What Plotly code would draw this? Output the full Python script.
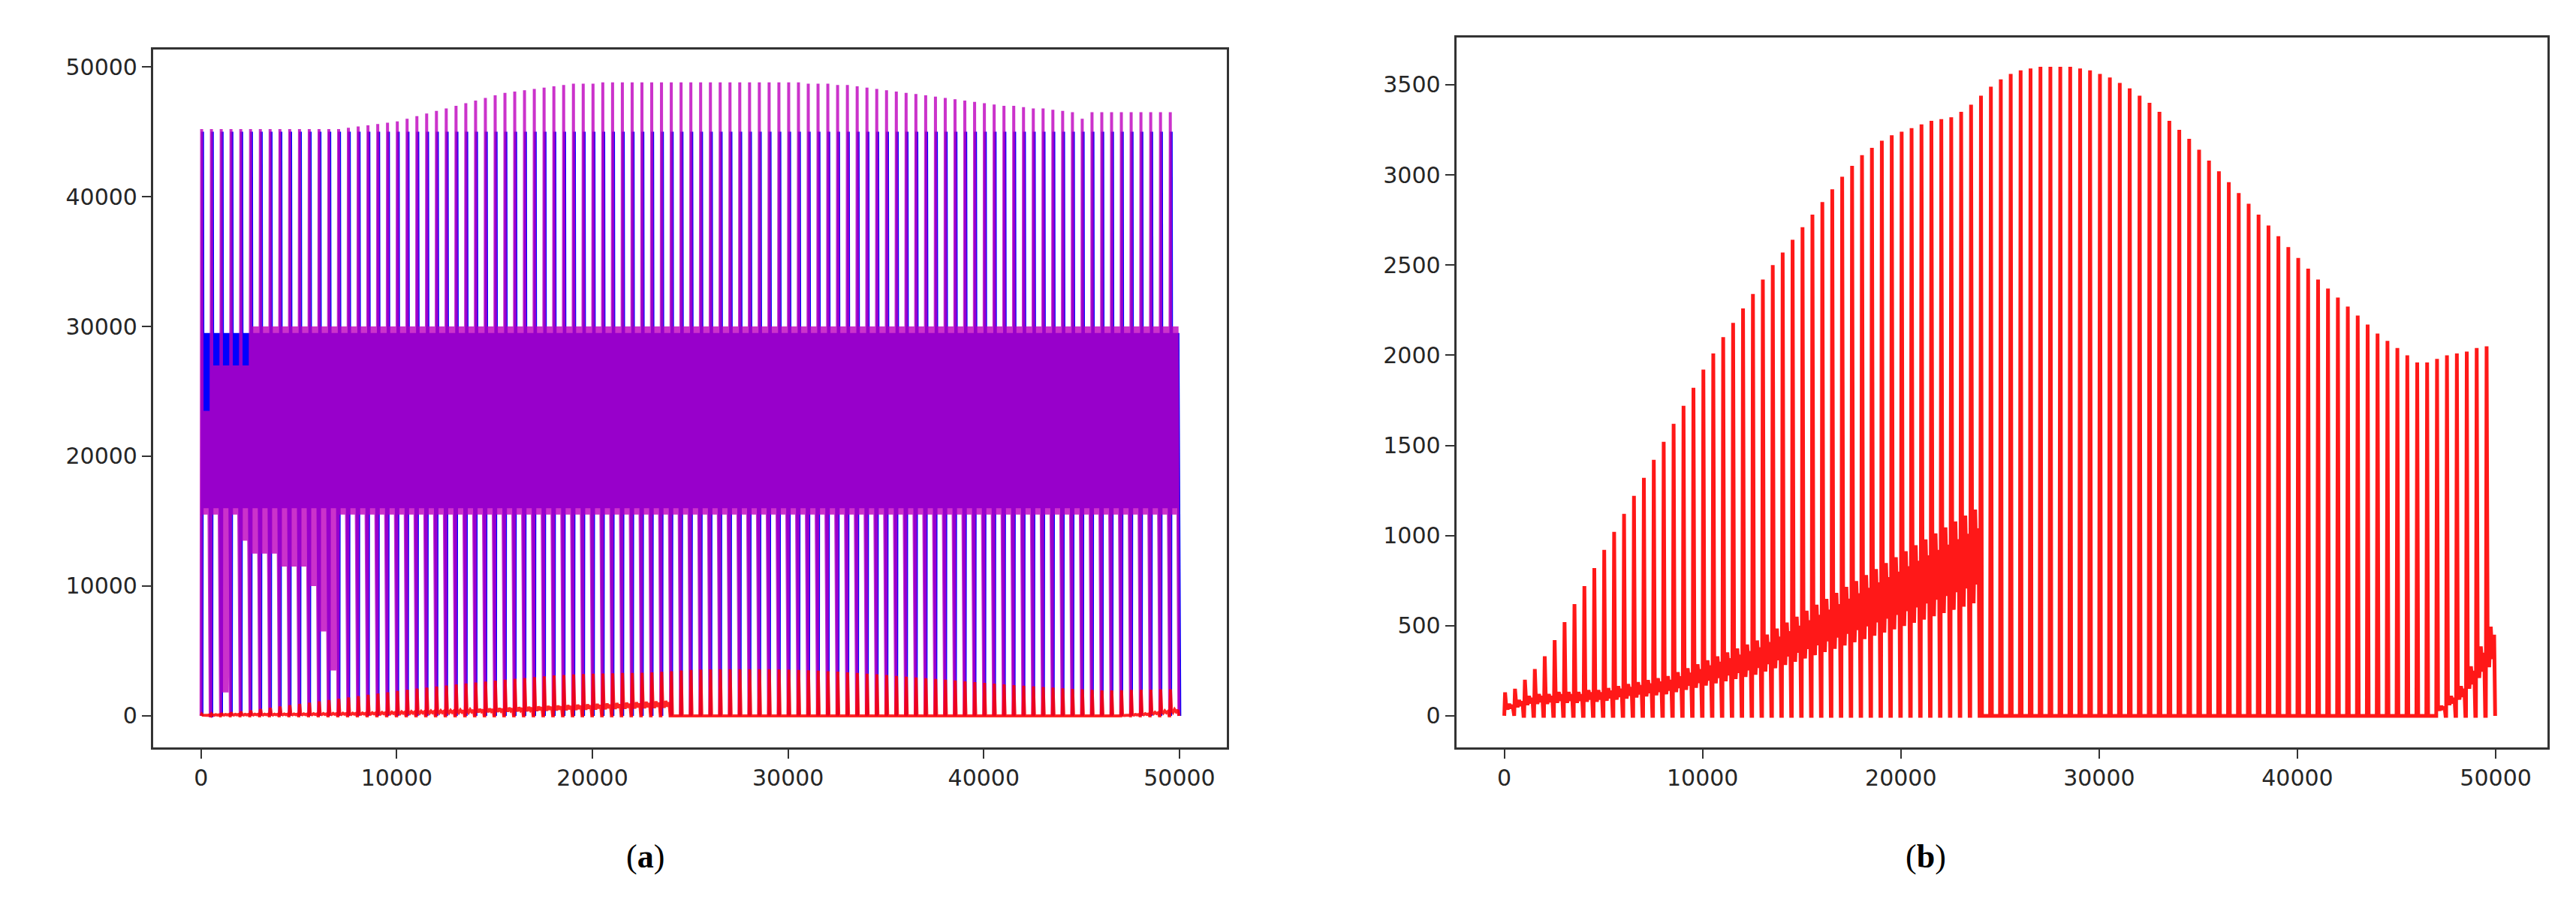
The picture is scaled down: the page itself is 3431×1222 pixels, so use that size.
import plotly.graph_objects as go

PERIOD = 500
red_peaks = [130,150,200,260,330,420,520,620,720,820,
             920,1020,1120,1220,1320,1420,1520,1620,1720,1820,
             1920,2010,2100,2180,2260,2340,2420,2500,2570,2640,
             2710,2780,2850,2920,2990,3050,3110,3150,3190,3220,
             3240,3260,3280,3300,3310,3320,3350,3390,3440,3490,
             3530,3560,3580,3590,3600,3600,3600,3600,3590,3580,
             3560,3540,3510,3480,3440,3400,3350,3300,3250,3200,
             3140,3080,3020,2960,2900,2840,2780,2720,2660,2600,
             2540,2480,2420,2370,2320,2270,2220,2170,2120,2080,
             2040,2000,1960,1960,1980,2000,2010,2020,2040,2050]
red_lower = [60,80,100,110,110,120,120,120,130,130,
             140,150,160,170,180,190,200,220,240,260,
             280,300,320,340,360,380,410,440,470,500,
             530,560,590,620,650,680,710,740,770,800,
             830,860,890,920,950,980,1010,1040,0,0,
             0,0,0,0,0,0,0,0,0,0,
             0,0,0,0,0,0,0,0,0,0,
             0,0,0,0,0,0,0,0,0,0,
             0,0,0,0,0,0,0,0,0,0,
             0,0,0,0,50,100,150,250,350,450]
mag_peaks = [45200,45200,45200,45200,45200,45200,45200,45200,45200,45200,
             45200,45200,45200,45200,45200,45300,45400,45500,45600,45700,
             45800,46000,46200,46400,46600,46800,47000,47200,47400,47600,
             47800,48000,48100,48200,48300,48400,48500,48600,48700,48700,
             48700,48800,48800,48800,48800,48800,48800,48800,48800,48800,
             48800,48800,48800,48800,48800,48800,48800,48800,48800,48800,
             48800,48800,48700,48700,48700,48600,48600,48500,48400,48300,
             48200,48100,48000,47900,47800,47700,47600,47500,47400,47300,
             47200,47100,47000,47000,46900,46800,46800,46700,46600,46500,
             46000,46500,46500,46500,46500,46500,46500,46500,46500,46500]
mag_low = [15500,15500,1800,15500,13500,12500,12500,12500,11500,11500,
           11500,10000,6500,3500,15500,15500] + [15500]*84
mag_high = [23500,27000,27000,27000,27000] + [30000]*95
blue_peaks = [45000]*100
blue_low = [16000]*100
blue_high = [29500]*100
tick_a = [0,10000,20000,30000,40000,50000]
tick_b = [0,500,1000,1500,2000,2500,3000,3500]

def build(peaks, low, high, nz, shift=0):
    xs, ys = [], []
    for k, p in enumerate(peaks):
        x0 = k * PERIOD + shift
        xs += [x0, x0 + 30]
        ys += [0, p]
        for j in range(nz):
            xs += [x0 + 60 + j * 90, x0 + 105 + j * 90]
            ys += [low[k], high[k]]
        xs += [x0 + 470]
        ys += [0]
    return xs, ys

def build_red(peaks, lower):
    xs, ys = [], []
    for k, p in enumerate(peaks):
        x0 = k * PERIOD
        xs += [x0, x0 + 40, x0 + 90, x0 + 170, x0 + 250, x0 + 330, x0 + 420, x0 + 470]
        ys += [0, p, lower[k], lower[k] * 0.6, lower[k] * 1.1, lower[k] * 0.7, lower[k], 0]
    return xs, ys

fig = go.Figure()
bx, by = build(blue_peaks, blue_low, blue_high, 4, shift=45)
mx, my = build(mag_peaks, mag_low, mag_high, 4)
rx, ry = build_red(red_peaks, red_lower)
fig.add_trace(go.Scatter(x=bx, y=by, mode='lines', line=dict(color='#0000ff', width=4), xaxis='x', yaxis='y'))
fig.add_trace(go.Scatter(x=mx, y=my, mode='lines', line=dict(color='#bf00bf', width=4), opacity=0.8, xaxis='x', yaxis='y'))
fig.add_trace(go.Scatter(x=rx, y=ry, mode='lines', line=dict(color='#ff0000', width=4), opacity=0.85, xaxis='x', yaxis='y'))
fig.add_trace(go.Scatter(x=rx, y=ry, mode='lines', line=dict(color='#ff0000', width=5), opacity=0.9, xaxis='x2', yaxis='y2'))

ax = dict(showline=True, mirror=True, linecolor='#333333', linewidth=3, ticks='outside',
          ticklen=12, tickwidth=2, tickcolor='#333333', showgrid=False, zeroline=False,
          tickfont=dict(family='DejaVu Sans', size=30, color='#262626'))
fig.update_layout(
    width=3431, height=1222, margin=dict(l=0, r=0, t=0, b=0), showlegend=False,
    plot_bgcolor='white', paper_bgcolor='white',
    xaxis=dict(ax, domain=[0.0571, 0.474], range=[-2450, 52430], tickvals=tick_a, ticktext=[str(v) for v in tick_a]),
    yaxis=dict(ax, domain=[0.1915, 0.9525], range=[-2430, 51330], tickvals=tick_a, ticktext=[str(v) for v in tick_a]),
    xaxis2=dict(ax, domain=[0.563, 0.9866], range=[-2420, 52610], tickvals=tick_a, ticktext=[str(v) for v in tick_a], anchor='y2'),
    yaxis2=dict(ax, domain=[0.1915, 0.9656], range=[-175, 3762], tickvals=tick_b, ticktext=[str(v) for v in tick_b], anchor='x2'),
    annotations=[
        dict(text='(<b>a</b>)', x=824/3431, y=1-1160/1222, xref='paper', yref='paper', showarrow=False,
             font=dict(family='Liberation Serif', size=44, color='black')),
        dict(text='(<b>b</b>)', x=2586/3431, y=1-1160/1222, xref='paper', yref='paper', showarrow=False,
             font=dict(family='Liberation Serif', size=44, color='black')),
    ])
fig.write_html('out.html')
